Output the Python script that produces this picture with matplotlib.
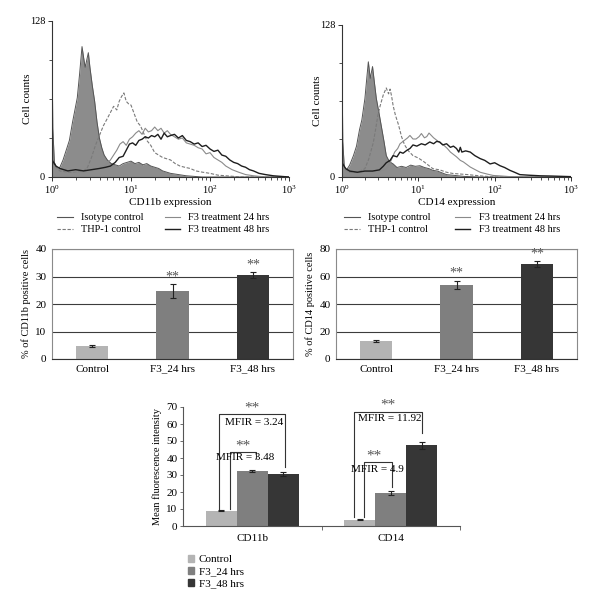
import numpy as np
import matplotlib
matplotlib.use('Agg')
import matplotlib.pyplot as plt
from matplotlib.patches import Patch
from matplotlib.lines import Line2D
from matplotlib.ticker import LogLocator, FixedLocator, NullFormatter

plt.rcParams['font.family'] = ['Liberation Serif', 'DejaVu Serif']
plt.rcParams['mathtext.fontset'] = 'stix'

# ---- histogram data (log10 of expression, cell counts) ----
# CD11b
cd11b_iso_log = [0.00, 0.01, 0.03, 0.06, 0.10, 0.14, 0.18, 0.22, 0.26, 0.29, 0.32, 0.35, 0.38, 0.40, 0.42, 0.44,
                 0.46, 0.48, 0.51, 0.54, 0.57, 0.60, 0.63, 0.66, 0.70, 0.75, 0.80, 0.85, 0.90, 0.95, 1.00, 1.05,
                 1.10, 1.15, 1.20, 1.25, 1.30, 1.35, 1.40, 1.45, 1.50, 1.55, 1.60, 1.70, 1.80, 1.90, 2.00, 3.00]
cd11b_iso = [108, 40, 12, 7, 8, 14, 22, 30, 45, 55, 65, 85, 107, 98, 90, 96,
             102, 90, 75, 62, 45, 32, 24, 18, 14, 11, 10, 9, 11, 12, 13, 11,
             12, 10, 11, 9, 8, 7, 5, 4, 3, 2.5, 2, 1, 0.5, 0, 0, 0]
cd11b_thp_log = [0.00, 0.05, 0.10, 0.20, 0.30, 0.40, 0.45, 0.50, 0.55, 0.60, 0.65, 0.70, 0.74, 0.78, 0.82, 0.85,
                 0.88, 0.91, 0.94, 0.97, 1.00, 1.04, 1.08, 1.12, 1.16, 1.20, 1.25, 1.30, 1.35, 1.40, 1.45, 1.50,
                 1.56, 1.62, 1.68, 1.75, 1.82, 1.90, 2.00, 2.10, 2.20, 2.40, 3.00]
cd11b_thp = [12, 8, 5, 4, 4, 5, 8, 16, 26, 34, 42, 48, 53, 58, 55, 62,
             66, 69, 62, 60, 59, 52, 45, 42, 36, 30, 26, 20, 18, 16, 15, 14,
             11, 9, 8, 7, 5, 4, 3, 1.5, 1, 0, 0]
cd11b_24_log = [0.00, 0.05, 0.10, 0.20, 0.30, 0.40, 0.50, 0.60, 0.68, 0.74, 0.78, 0.82, 0.86, 0.90, 0.94, 0.98,
                1.02, 1.06, 1.10, 1.14, 1.18, 1.22, 1.26, 1.30, 1.34, 1.38, 1.42, 1.46, 1.50, 1.55, 1.60, 1.65,
                1.70, 1.75, 1.80, 1.85, 1.90, 1.95, 2.00, 2.05, 2.10, 2.15, 2.20, 2.28, 2.36, 2.45, 2.55, 2.70, 3.00]
cd11b_24 = [10, 7, 6, 5, 4, 4, 5, 7, 10, 14, 18, 22, 27, 29, 26, 31,
            33, 36, 38, 35, 40, 37, 38, 41, 38, 40, 36, 38, 35, 33, 31, 32,
            28, 27, 26, 24, 23, 19, 20, 16, 14, 12, 9, 6, 4, 2, 1, 0, 0]
cd11b_48_log = [0.00, 0.05, 0.10, 0.20, 0.30, 0.40, 0.50, 0.60, 0.68, 0.74, 0.80, 0.85, 0.90, 0.94, 0.98, 1.02,
                1.06, 1.10, 1.14, 1.18, 1.22, 1.26, 1.30, 1.34, 1.38, 1.42, 1.46, 1.50, 1.55, 1.60, 1.65, 1.70,
                1.75, 1.80, 1.85, 1.90, 1.95, 2.00, 2.05, 2.10, 2.15, 2.20, 2.25, 2.30, 2.35, 2.40, 2.45, 2.50,
                2.55, 2.62, 2.70, 2.80, 3.00]
cd11b_48 = [14, 9, 7, 5, 6, 5, 6, 7, 8, 9, 12, 16, 17, 22, 27, 28,
            26, 30, 31, 33, 32, 34, 33, 35, 31, 36, 33, 34, 35, 32, 34, 30,
            29, 27, 28, 25, 26, 23, 21, 22, 18, 17, 14, 12, 11, 9, 8, 6,
            5, 3, 2, 1, 0]

# CD14
cd14_iso_log = [0.00, 0.01, 0.03, 0.06, 0.10, 0.15, 0.19, 0.23, 0.26, 0.30, 0.32, 0.345, 0.37, 0.40, 0.42, 0.45,
                0.49, 0.52, 0.55, 0.58, 0.62, 0.67, 0.72, 0.78, 0.84, 0.90, 0.96, 1.02, 1.08, 1.14, 1.19, 1.25,
                1.31, 1.37, 1.45, 1.60, 1.80, 3.00]
cd14_iso = [100, 30, 8, 6, 10, 18, 26, 40, 48, 66, 80, 97, 83, 93, 82, 66,
            52, 41, 30, 18, 13, 11, 8, 9, 8, 10, 9, 9.5, 8, 7, 5.6, 5,
            3.5, 2, 1.5, 0.5, 0, 0]
cd14_thp_log = [0.00, 0.05, 0.10, 0.20, 0.30, 0.35, 0.41, 0.44, 0.47, 0.50, 0.54, 0.56, 0.58, 0.61, 0.63, 0.65,
                0.67, 0.70, 0.74, 0.78, 0.82, 0.87, 0.93, 1.00, 1.07, 1.13, 1.19, 1.28, 1.37, 1.45, 1.55, 1.65,
                1.80, 2.00, 3.00]
cd14_thp = [10, 6, 4, 4, 7, 15, 29, 40, 52, 60, 69, 72, 75, 70, 74, 68,
            60, 52, 44, 34, 27, 22, 18, 16, 13, 10, 7, 6, 4, 3, 2.5, 2,
            1, 0, 0]
cd14_24_log = [0.00, 0.05, 0.10, 0.20, 0.30, 0.40, 0.50, 0.58, 0.63, 0.69, 0.73, 0.76, 0.82, 0.86, 0.89, 0.93,
               0.97, 1.01, 1.04, 1.08, 1.11, 1.14, 1.17, 1.20, 1.24, 1.28, 1.33, 1.38, 1.42, 1.46, 1.50, 1.55,
               1.59, 1.68, 1.75, 1.81, 1.90, 1.98, 2.10, 2.20, 3.00]
cd14_24 = [9, 6, 5, 4, 4, 5, 5, 7, 12, 21, 24, 28, 31, 33, 35, 32,
           32, 34, 36.6, 33, 34, 37, 35, 33, 31, 29, 27, 24, 21, 19, 17, 14,
           12.7, 8.4, 6, 4, 2.5, 1.3, 0.8, 0.3, 0]
cd14_48_log = [0.00, 0.05, 0.10, 0.20, 0.30, 0.40, 0.49, 0.54, 0.58, 0.63, 0.67, 0.72, 0.76, 0.80, 0.85, 0.89,
               0.93, 0.98, 1.04, 1.09, 1.15, 1.20, 1.24, 1.28, 1.32, 1.37, 1.42, 1.46, 1.50, 1.53, 1.55, 1.57,
               1.62, 1.68, 1.74, 1.81, 1.87, 1.94, 2.00, 2.07, 2.13, 2.20, 2.26, 2.33, 2.45, 2.60, 2.75, 2.90, 3.00]
cd14_48 = [12, 7, 5, 4, 5, 5, 6, 9, 12, 14, 18, 17, 21, 20, 22.5, 24,
           27, 26, 28, 27, 29.5, 28, 30, 29.5, 27, 28, 25, 26, 24, 21, 25, 21,
           22, 21, 18, 15.5, 14, 11, 12, 9.5, 8, 5.6, 4, 2, 1.5, 1, 0.8, 0.5, 0.3]

hist_legend = ['Isotype control', 'THP-1 control', 'F3 treatment 24 hrs', 'F3 treatment 48 hrs']

# ---- bar data ----
groups = ['Control', 'F3_24 hrs', 'F3_48 hrs']
cd11b_pct = [4.7, 24.6, 30.5]
cd11b_pct_err = [0.3, 2.5, 1.0]
cd14_pct = [13.0, 53.8, 69.0]
cd14_pct_err = [0.5, 3.2, 2.0]

markers = ['CD11b', 'CD14']
mfi_control = [9.0, 3.6]
mfi_24 = [32.6, 19.4]
mfi_48 = [30.4, 47.5]
mfi_control_err = [0.3, 0.3]
mfi_24_err = [0.6, 1.0]
mfi_48_err = [1.2, 2.2]
mfir_labels = [['MFIR = 3.48', 'MFIR = 3.24'], ['MFIR = 4.9', 'MFIR = 11.92']]

bar_colors = ['#b4b4b4', '#7f7f7f', '#363636']

W, H = 600, 607
fig = plt.figure(figsize=(6, 6.07), dpi=100)


def px_axes(l, t, r, b):
    return fig.add_axes([l / W, 1 - b / H, (r - l) / W, (b - t) / H])


def hist_panel(box, curves, xlabel, leg_x, colsp):
    ax = px_axes(*box)
    (iso_l, iso), (thp_l, thp), (l24, c24), (l48, c48) = curves
    x = 10 ** np.array(iso_l)
    ax.fill_between(x, iso, color='#8c8c8c', lw=0)
    ax.plot(x, iso, color='#555555', lw=0.7)
    ax.plot(10 ** np.array(thp_l), thp, color='#7a7a7a', lw=0.8, ls=(0, (3, 1.5)))
    ax.plot(10 ** np.array(l24), c24, color='#8a8a8a', lw=0.8)
    ax.plot(10 ** np.array(l48), c48, color='#1e1e1e', lw=1.0)
    ax.set_xscale('log')
    ax.set_xlim(1, 1000)
    ax.set_ylim(0, 128)
    for s in ['top', 'right']:
        ax.spines[s].set_visible(False)
    for s in ['left', 'bottom']:
        ax.spines[s].set_color('#333333')
        ax.spines[s].set_linewidth(0.8)
    ax.set_yticks([0, 128])
    ax.yaxis.set_minor_locator(FixedLocator([32, 64, 96]))
    ax.xaxis.set_major_locator(LogLocator(base=10))
    ax.xaxis.set_minor_locator(LogLocator(base=10, subs=np.arange(2, 10)))
    ax.xaxis.set_minor_formatter(NullFormatter())
    ax.tick_params(which='major', length=3, width=0.7, labelsize=7.5, color='#333333', pad=2)
    ax.tick_params(which='minor', length=2, width=0.6, color='#333333')
    ax.set_ylabel('Cell counts', fontsize=8, labelpad=-2)
    ax.set_xlabel(xlabel, fontsize=8, labelpad=1)
    handles = [Line2D([], [], color='#555555', lw=0.8),
               Line2D([], [], color='#7a7a7a', lw=0.8, ls=(0, (3, 1.5))),
               Line2D([], [], color='#8a8a8a', lw=0.8),
               Line2D([], [], color='#1e1e1e', lw=1.0)]
    fig.legend(handles, hist_legend, loc='upper left', bbox_to_anchor=(leg_x / W, 1 - 208 / H),
               ncol=2, frameon=False, fontsize=7.5, handlelength=1.5, handletextpad=0.8,
               columnspacing=colsp, labelspacing=0.25, borderpad=0)
    return ax


hist_panel((52, 21, 289, 177),
           [(cd11b_iso_log, cd11b_iso), (cd11b_thp_log, cd11b_thp),
            (cd11b_24_log, cd11b_24), (cd11b_48_log, cd11b_48)],
           'CD11b expression', 52, 2.0)
hist_panel((342, 25, 571, 177),
           [(cd14_iso_log, cd14_iso), (cd14_thp_log, cd14_thp),
            (cd14_24_log, cd14_24), (cd14_48_log, cd14_48)],
           'CD14 expression', 339, 2.3)


def pct_panel(box, vals, errs, ymax, ylabel, star_off):
    ax = px_axes(*box)
    pos = np.arange(len(groups))
    ax.set_axisbelow(True)
    ax.yaxis.grid(True, color='#3c3c3c', lw=0.8)
    ax.bar(pos, vals, width=0.4, color=bar_colors, yerr=errs,
           error_kw=dict(ecolor='#222222', elinewidth=0.8, capsize=2, capthick=0.8))
    for i in [1, 2]:
        ax.text(pos[i], vals[i] + errs[i] + star_off, '**', ha='center', va='bottom',
                fontsize=10, color='#555555')
    ax.set_xlim(-0.5, 2.5)
    ax.set_ylim(0, ymax)
    ax.set_yticks(np.linspace(0, ymax, 5))
    ax.set_xticks(pos)
    ax.set_xticklabels(groups)
    for s in ax.spines.values():
        s.set_color('#8a8a8a')
        s.set_linewidth(0.8)
    ax.spines['bottom'].set_color('#333333')
    ax.tick_params(length=0, labelsize=8, pad=4)
    ax.set_ylabel(ylabel, fontsize=7.5, labelpad=3)
    return ax


pct_panel((52, 249, 293, 359), cd11b_pct, cd11b_pct_err, 40, '% of CD11b positive cells', 0.2)
pct_panel((336, 249, 577, 359), cd14_pct, cd14_pct_err, 80, '% of CD14 positive cells', 0.8)

# ---- mean fluorescence intensity ----
ax = px_axes(183, 407, 460, 526)
pos = np.arange(len(markers))
bw = 0.224
series = [(mfi_control, mfi_control_err), (mfi_24, mfi_24_err), (mfi_48, mfi_48_err)]
for k, (v, e) in enumerate(series):
    ax.bar(pos + (k - 1) * bw, v, width=bw, color=bar_colors[k], label=groups[k], yerr=e,
           error_kw=dict(ecolor='#222222', elinewidth=0.8, capsize=2, capthick=0.8))

bk = dict(color='#333333', lw=0.8)
# CD11b brackets
ax.plot([-0.24, -0.24, 0.24, 0.24], [10, 66, 66, 35], **bk)
ax.plot([-0.16, -0.16, 0.03, 0.03], [10, 43.5, 43.5, 40], **bk)
ax.text(0.0, 65.5, '**', ha='center', va='bottom', fontsize=11, color='#555555')
ax.text(0.01, 61, mfir_labels[0][1], ha='center', va='center', fontsize=8)
ax.text(-0.065, 43, '**', ha='center', va='bottom', fontsize=11, color='#555555')
ax.text(-0.055, 40, mfir_labels[0][0], ha='center', va='center', fontsize=8)
# CD14 brackets
ax.plot([0.735, 0.735, 1.225, 1.225], [5.3, 67, 67, 54.7], **bk)
ax.plot([0.806, 0.806, 1.01, 1.01], [5.3, 37.6, 37.6, 23], **bk)
ax.text(0.98, 67.5, '**', ha='center', va='bottom', fontsize=11, color='#555555')
ax.text(0.99, 63.5, mfir_labels[1][1], ha='center', va='center', fontsize=8)
ax.text(0.88, 37.5, '**', ha='center', va='bottom', fontsize=11, color='#555555')
ax.text(0.9, 33.5, mfir_labels[1][0], ha='center', va='center', fontsize=8)

ax.set_xlim(-0.5, 1.5)
ax.set_ylim(0, 70)
ax.set_yticks(np.arange(0, 71, 10))
ax.set_xticks(pos)
ax.set_xticklabels(markers)
ax.xaxis.set_minor_locator(FixedLocator([0.5, 1.5]))
ax.tick_params(axis='x', which='major', length=0, labelsize=8, pad=6)
ax.tick_params(axis='x', which='minor', length=3, width=0.6, color='#555555')
ax.tick_params(axis='y', length=2, width=0.6, labelsize=8, color='#555555', pad=2)
for s in ['top', 'right']:
    ax.spines[s].set_visible(False)
for s in ['left', 'bottom']:
    ax.spines[s].set_color('#555555')
    ax.spines[s].set_linewidth(0.8)
ax.set_ylabel('Mean fluorescence intensity', fontsize=7.5, labelpad=3)

handles = [Patch(color=c) for c in bar_colors]
fig.legend(handles, groups, loc='upper left', bbox_to_anchor=(182 / W, 1 - 549 / H),
           frameon=False, fontsize=8, handlelength=0.6, handleheight=0.6,
           handletextpad=0.4, labelspacing=0.25, borderpad=0)

fig.savefig('out.png', dpi=100)
